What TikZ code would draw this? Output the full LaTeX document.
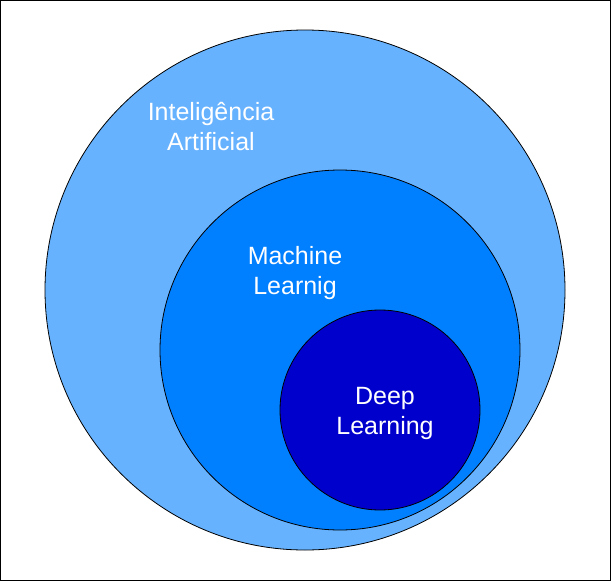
\documentclass[tikz,border=0pt]{standalone}
\usepackage{fontspec}
\setmainfont{Liberation Sans}
\definecolor{aiblue}{HTML}{66B2FF}
\definecolor{mlblue}{HTML}{007FFF}
\definecolor{dlblue}{HTML}{0000CC}
\begin{document}
\begin{tikzpicture}[x=1pt,y=-1pt,
  setcircle/.style={circle,draw=black,line width=0.8pt,inner sep=0pt},
  setlabel/.style={text=white,align=center,font=\fontsize{25}{30}\selectfont}]
  \useasboundingbox (0,0) rectangle (611,581);
  \draw[black,line width=1pt] (0.5,0.5) rectangle (610.5,580.5);
  \node[setcircle,fill=aiblue,minimum size=520pt] (ai) at (305,290) {};
  \node[setcircle,fill=mlblue,minimum size=360pt] (ml) at (340,350) {};
  \node[setcircle,fill=dlblue,minimum size=200pt] (dl) at (380,410) {};
  \node[setlabel] (ailabel) at (211,127) {Inteligência\\Artificial};
  \node[setlabel] (mllabel) at (295,273) {Machine\\Learnig};
  \node[setlabel] (dllabel) at (385,413.5) {Deep\\Learning};
\end{tikzpicture}
\end{document}
